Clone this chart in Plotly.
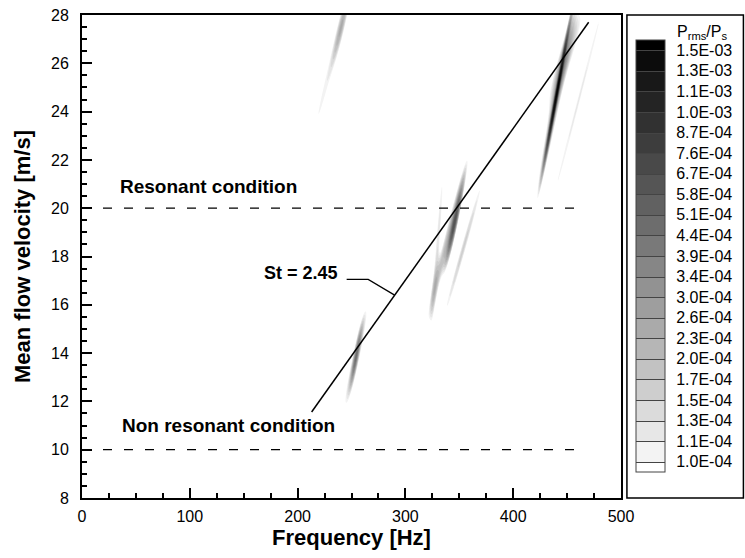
import numpy as np
import plotly.graph_objects as go

# ---------------- data ----------------
freq_range = [0, 500]
vel_range = [8, 28]

# contour legend levels (P_rms / P_s), log-spaced, as labelled
level_min = 1.0e-4
level_max = 1.5e-3
level_labels = ["1.0E-04", "1.1E-04", "1.3E-04", "1.5E-04", "1.7E-04", "2.0E-04",
                "2.3E-04", "2.6E-04", "3.0E-04", "3.4E-04", "3.9E-04", "4.4E-04",
                "5.1E-04", "5.8E-04", "6.7E-04", "7.6E-04", "8.7E-04", "1.0E-03",
                "1.1E-03", "1.3E-03", "1.5E-03"]

# pressure-fluctuation streaks: visible start/end (Hz, m/s), half-width (Hz), peak level
streak_f0 = [245.0, 250.0, 323.3, 337.0, 338.5, 326.3, 424.0, 426.0, 436.0, 440.8, 219.5, 237.0]
streak_u0 = [12.0, 12.8, 15.86, 17.5, 15.92, 16.34, 20.9, 21.2, 24.6, 21.03, 23.9, 26.8]
streak_f1 = [263.0, 259.0, 355.0, 354.0, 369.0, 334.0, 454.5, 455.0, 461.0, 480.0, 242.0, 244.0]
streak_u1 = [15.6, 15.0, 21.6, 21.2, 20.75, 20.9, 27.8, 28.3, 27.9, 27.8, 27.9, 28.2]
streak_width = [2.8, 1.2, 2.5, 1.5, 2.0, 1.8, 2.5, 0.8, 5.0, 1.8, 3.5, 2.0]
streak_peak = [1.7e-4, 3.0e-4, 2.0e-4, 5.5e-4, 1.6e-4, 1.3e-4, 2.5e-4, 1.3e-3, 1.8e-4, 1.2e-4, 1.12e-4, 1.35e-4]

# reference lines
resonant_u = 20.0
nonresonant_u = 10.0
dash_f = [0, 460]
st_f = [213.0, 470.0]
st_u = [11.56, 27.7]
leader_f = [245.5, 265.5, 290.0]
leader_u = [17.05, 17.05, 16.4]

# ---------------- build the field ----------------
f = np.arange(0, 500.01, 0.5)
u = np.arange(8, 28.001, 0.1)
F, U = np.meshgrid(f, u)
P = np.zeros_like(F)
for f0, u0, f1, u1, w, pk in zip(streak_f0, streak_u0, streak_f1, streak_u1,
                                 streak_width, streak_peak):
    t = (U - u0) / (u1 - u0)
    fl = f0 + t * (f1 - f0)
    perp = np.exp(-0.5 * ((F - fl) / w) ** 2)
    along = np.exp(-np.log(pk / level_min) * (2 * t - 1) ** 2)
    P += pk * perp * along
Z = np.round(np.log10(P + 1e-7), 4)

lstart = np.log10(level_min)
lend = np.log10(level_max)
nint = len(level_labels) - 1
lsize = (lend - lstart) / nint
tickvals = [lstart + k * lsize for k in range(len(level_labels))]

contours = dict(start=lstart, end=lend + 1e-9, size=lsize, coloring="fill", showlines=False)
gray = [[0, "rgb(255,255,255)"], [1, "rgb(0,0,0)"]]

FONT = "Liberation Sans, Arial, sans-serif"

fig = go.Figure()

# colour legend (separate trace so legend boxes get separator lines)
fig.add_trace(go.Contour(
    x=[0, 1], y=[8, 8.1], z=[[-9, -9], [-9, -9]],
    autocontour=False, contours=dict(start=lstart, end=lend + 1e-9, size=lsize, coloring="fill"),
    colorscale=gray, opacity=0, line=dict(width=1, color="#444"),
    showscale=True, hoverinfo="skip",
    colorbar=dict(
        tickmode="array", tickvals=tickvals, ticktext=level_labels,
        thickness=29, thicknessmode="pixels", len=432, lenmode="pixels",
        x=(643 - 82) / 546, xanchor="left", y=(498 - 256) / 483, yanchor="middle",
        xpad=0, ypad=0, outlinewidth=1, outlinecolor="#444",
        ticks="outside", ticklen=8, tickcolor="rgba(0,0,0,0)",
        tickfont=dict(family=FONT, size=16, color="black"),
    ),
))

fig.add_trace(go.Contour(
    x=f, y=u, z=Z, autocontour=False, contours=contours,
    colorscale=gray, line=dict(width=0), showscale=False, hoverinfo="skip",
))

dash_style = dict(color="black", width=1.2, dash="9px,12px")
fig.add_trace(go.Scatter(x=dash_f, y=[resonant_u] * 2, mode="lines", line=dash_style, showlegend=False))
fig.add_trace(go.Scatter(x=dash_f, y=[nonresonant_u] * 2, mode="lines", line=dash_style, showlegend=False))
fig.add_trace(go.Scatter(x=st_f, y=st_u, mode="lines", line=dict(color="black", width=1.5), showlegend=False))
fig.add_trace(go.Scatter(x=leader_f, y=leader_u, mode="lines", line=dict(color="black", width=1.2), showlegend=False))

ann_font = dict(family=FONT, size=19, color="black")
fig.add_annotation(x=33, y=20.88, text="<b>Resonant condition</b>", showarrow=False,
                   xanchor="left", yanchor="middle", font=ann_font)
fig.add_annotation(x=34.8, y=11.02, text="<b>Non resonant condition</b>", showarrow=False,
                   xanchor="left", yanchor="middle", font=ann_font)
fig.add_annotation(x=239, y=17.32, text="<b>St = 2.45</b>", showarrow=False,
                   xanchor="right", yanchor="middle", font=dict(family=FONT, size=18, color="black"))
fig.add_annotation(x=(683 - 82) / 546, y=(498 - 32) / 483, xref="paper", yref="paper",
                   text="P<sub>rms</sub>/P<sub>s</sub>", showarrow=False,
                   xanchor="left", yanchor="middle", font=dict(family=FONT, size=16, color="black"))

fig.add_shape(type="rect", xref="paper", yref="paper",
              x0=(634 - 82) / 546, x1=(752 - 82) / 546, y0=0, y1=1,
              line=dict(color="black", width=1.5))

axis_common = dict(showline=True, linecolor="black", linewidth=2, mirror=True,
                   ticks="inside", tickcolor="black", tickwidth=1.5, ticklen=10,
                   showgrid=False, zeroline=False, automargin=False,
                   tickfont=dict(family=FONT, size=16, color="black"))

fig.update_xaxes(range=freq_range, dtick=100, tick0=0,
                 minor=dict(ticks="inside", dtick=25, ticklen=5, tickwidth=1.5, tickcolor="black"),
                 ticklabelstandoff=3,
                 title=dict(text="<b>Frequency [Hz]</b>", font=dict(family=FONT, size=22, color="black"), standoff=4),
                 **axis_common)
fig.update_yaxes(range=vel_range, dtick=2, tick0=8,
                 minor=dict(ticks="inside", dtick=0.5, ticklen=5, tickwidth=1.5, tickcolor="black"),
                 ticklabelstandoff=8,
                 title=dict(text="<b>Mean flow velocity [m/s]</b>", font=dict(family=FONT, size=22, color="black"), standoff=14),
                 **axis_common)

fig.update_layout(width=745, height=558, margin=dict(l=82, r=117, t=15, b=60),
                  paper_bgcolor="white", plot_bgcolor="white", showlegend=False,
                  font=dict(family=FONT, color="black"))

fig.write_html("out.html")
